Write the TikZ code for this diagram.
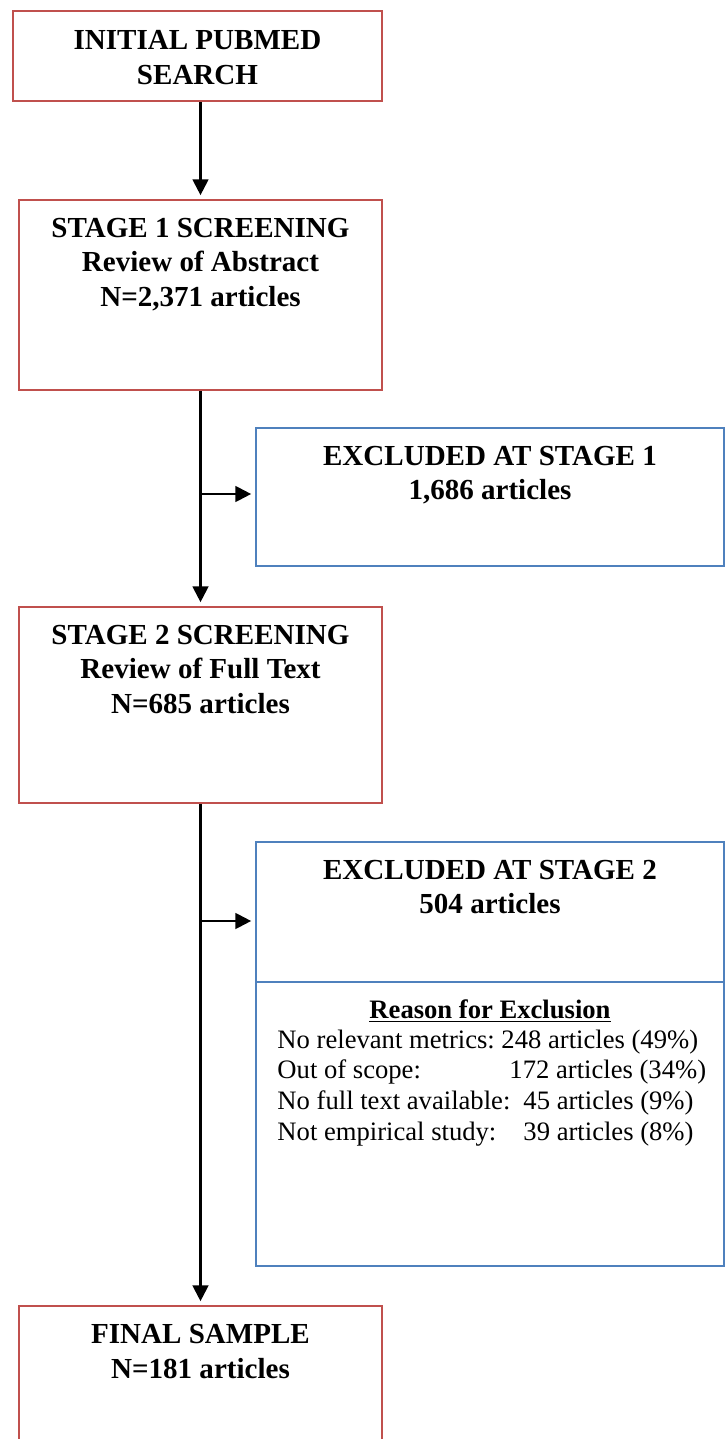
\documentclass[tikz,border=0pt]{standalone}
\usepackage{fontspec}
\setmainfont{Liberation Serif}
\usetikzlibrary{positioning,fit,arrows.meta}
\definecolor{boxred}{RGB}{192,80,77}
\definecolor{boxblue}{RGB}{79,129,189}

\begin{document}
\begin{tikzpicture}[x=0.4132pt,y=-0.4132pt,
  redbox/.style={draw=boxred,line width=1pt,inner sep=0pt},
  bluebox/.style={draw=boxblue,line width=1pt,inner sep=0pt},
  head/.style={inner sep=0pt,align=center,font=\fontsize{12}{14.3}\selectfont\bfseries},
  reason/.style={inner sep=0pt,font=\fontsize{11}{12.6}\selectfont},
  flow/.style={line width=0.9pt,-{Triangle[length=6.5pt,width=6.5pt]},shorten >=1.5pt}]
\useasboundingbox (0,0) rectangle (726,1439);
% boxes
\node[redbox,fit={(13,11) (382,101)}] (search) {};
\node[redbox,fit={(19,200) (382,390)}] (screen1) {};
\node[bluebox,fit={(256,428) (724,566)}] (excl1) {};
\node[redbox,fit={(19,607) (382,803)}] (screen2) {};
\node[bluebox,fit={(256,842) (724,982)}] (excl2) {};
\node[bluebox,fit={(256,982) (724,1266)}] (reasons) {};
\node[redbox,fit={(19,1306) (382,1500)}] (final) {};
% box texts
\node[head,below=8.3pt of search.north] (searchtxt) {INITIAL PUBMED\\SEARCH};
\node[head,below=7.8pt of screen1.north] (screen1txt) {STAGE 1 SCREENING\\Review of Abstract\\N=2,371 articles};
\node[head,below=7.8pt of excl1.north] (excl1txt) {EXCLUDED AT STAGE 1\\1,686 articles};
\node[head,below=7.8pt of screen2.north] (screen2txt) {STAGE 2 SCREENING\\Review of Full Text\\N=685 articles};
\node[head,below=7.8pt of excl2.north] (excl2txt) {EXCLUDED AT STAGE 2\\504 articles};
\node[head,below=7.8pt of final.north] (finaltxt) {FINAL SAMPLE\\N=181 articles};
% reasons
\node[reason,font=\fontsize{11}{12.6}\selectfont\bfseries,anchor=base] (reasontitle) at (490,1018) {\underline{Reason for Exclusion}};
\foreach \i/\lab/\cnt/\cx/\y in {1/No relevant metrics:/248 articles (49\%)/501/1048,
    2/Out of scope:/172 articles (34\%)/509/1078,
    3/No full text available:/45 articles (9\%)/523/1109,
    4/Not empirical study:/39 articles (8\%)/523/1140}{
  \node[reason,anchor=base west] (why\i) at (277,\y) {\lab};
  \node[reason,anchor=base west] (num\i) at (\cx,\y) {\cnt};
}
% connectors
\coordinate (fork1) at (200.5,494);
\coordinate (fork2) at (200.5,921);
\draw[flow] (screen1.north |- search.south) -- (screen1.north);
\draw[flow] (screen1.south) -- (screen2.north);
\draw[flow] (fork1) -- (fork1 -| excl1.west);
\draw[flow] (screen2.south) -- (final.north);
\draw[flow] (fork2) -- (fork2 -| excl2.west);
\end{tikzpicture}
\end{document}
